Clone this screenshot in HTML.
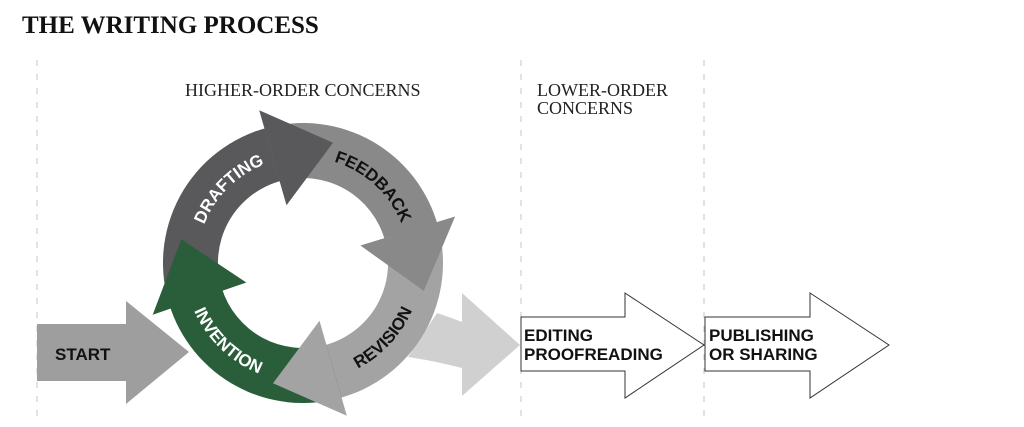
<!DOCTYPE html>
<html><head><meta charset="utf-8"><style>
html,body{margin:0;padding:0;background:#fff;width:1024px;height:427px;overflow:hidden}
svg{display:block}
.t{font-family:"Liberation Sans",sans-serif;font-weight:bold;font-size:17px}
.s{font-family:"Liberation Serif",serif}
</style></head><body>
<svg id="s" width="1024" height="427" viewBox="0 0 1024 427" xmlns="http://www.w3.org/2000/svg">
<text x="22" y="33" class="s" font-size="25" font-weight="bold" fill="#111">THE WRITING PROCESS</text>
<g stroke="#c4c4c4" stroke-width="1" stroke-dasharray="6,8">
<line x1="37" y1="60" x2="37" y2="420"/><line x1="521" y1="60" x2="521" y2="420"/><line x1="704" y1="60" x2="704" y2="420"/>
</g>
<text x="185" y="96" class="s" font-size="18" fill="#222">HIGHER-ORDER CONCERNS</text>
<text x="537" y="96" class="s" font-size="18" fill="#222">LOWER-ORDER</text>
<text x="537" y="114" class="s" font-size="18" fill="#222">CONCERNS</text>
<polygon points="37,324 126,324 126,301 189,352 126,404 126,381 37,381" fill="#9e9e9e"/>
<text x="55" y="360" class="t" fill="#111">START</text>
<path d="M437,313 Q452,318 462,322 L462,293 L520,345 L462,396 L462,368 Q430,360 408,357 Z" fill="#d0d0d0"/>
<g id="ring"></g>
<defs>
<path id="pD"/><path id="pF"/><path id="pR"/><path id="pI"/>
</defs>
<text class="t" fill="#fff"><textPath href="#pD" startOffset="50%" text-anchor="middle">DRAFTING</textPath></text>
<text class="t" fill="#111"><textPath href="#pF" startOffset="50%" text-anchor="middle">FEEDBACK</textPath></text>
<text class="t" fill="#111"><textPath href="#pR" startOffset="50%" text-anchor="middle">REVISION</textPath></text>
<text class="t" fill="#fff"><textPath href="#pI" startOffset="50%" text-anchor="middle">INVENTION</textPath></text>
<polygon points="521,317 625,317 625,293 704,345 625,398 625,371 521,371" fill="#fff" stroke="#333" stroke-width="1"/>
<polygon points="705,317 810,317 810,293 889,345 810,398 810,371 705,371" fill="#fff" stroke="#333" stroke-width="1"/>
<text x="524" y="341" class="t" fill="#111">EDITING</text>
<text x="524" y="360" class="t" fill="#111">PROOFREADING</text>
<text x="709" y="341" class="t" fill="#111">PUBLISHING</text>
<text x="709" y="360" class="t" fill="#111">OR SHARING</text>
</svg>
<script>
var cx=303,cy=263,r1=85,r2=140;
function P(a,r){a=a*Math.PI/180;return (cx+r*Math.cos(a)).toFixed(1)+","+(cy+r*Math.sin(a)).toFixed(1);}
function body(a0,a1){var l=((a1-a0+360)%360)>180?1:0;
return "M"+P(a0,r2)+" A"+r2+","+r2+" 0 "+l+" 1 "+P(a1,r2)+" L"+P(a1,r1)+" A"+r1+","+r1+" 0 "+l+" 0 "+P(a0,r1)+"Z";}
function head(b){return "M"+P(b,159)+" L"+P(b+30,124)+" L"+P(b,60)+"Z";}
function arc(a0,a1,r,cw){return "M"+P(a0,r)+" A"+r+","+r+" 0 0 "+(cw?1:0)+" "+P(a1,r);}
var segs=[[161,254,"#59595b"],[254,343,"#898989"],[343,74,"#a3a3a3"],[74,161,"#2a5e3a"]];
var h="";
segs.forEach(function(s){h+='<path d="'+body(s[0],s[1]+2)+'" fill="'+s[2]+'"/>';});
segs.forEach(function(s){h+='<path d="'+head(s[1])+'" fill="'+s[2]+'"/>';});
document.getElementById("ring").innerHTML=h;
document.getElementById("pD").setAttribute("d",arc(178,272,106,1));
document.getElementById("pF").setAttribute("d",arc(265,360,106,1));
document.getElementById("pR").setAttribute("d",arc(88,-2,119,0));
document.getElementById("pI").setAttribute("d",arc(180,88,119,0));
</script>
</body></html>
